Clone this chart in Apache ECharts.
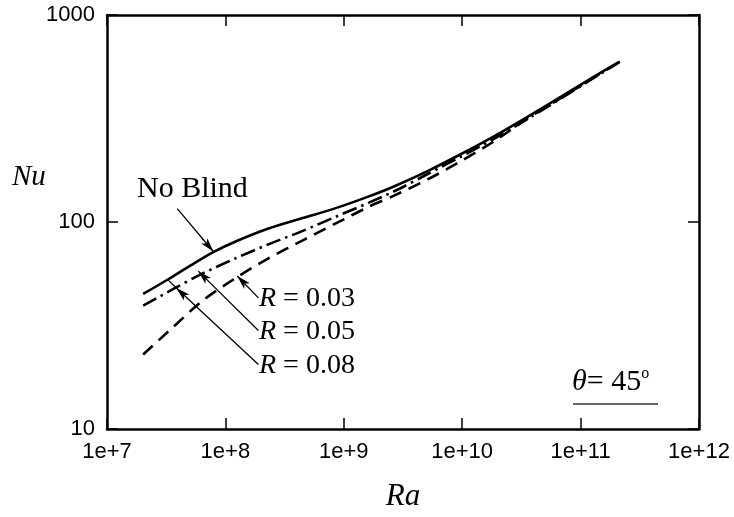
<!DOCTYPE html>
<html>
<head>
<meta charset="utf-8">
<script src="https://cdn.jsdelivr.net/npm/echarts@6/dist/echarts.min.js"></script>
<style>
html,body{margin:0;padding:0;background:#fff;}
#chart{width:734px;height:517px;}
</style>
</head>
<body>
<div id="chart"></div>
<script>
// ---- data ----
const xTicks = [1e7, 1e8, 1e9, 1e10, 1e11, 1e12];
const yTicks = [10, 100, 1000];

// No Blind (solid)
const raNoBlind = [2.02e7, 3.29e7, 5.05e7, 7.9e7, 1.22e8, 2.31e8, 4.5e8, 8.55e8, 1.63e9, 2.65e9, 5.15e9, 9.8e9, 1.87e10, 3.62e10, 6.9e10, 1.31e11, 2.14e11];
const nuNoBlind = [44.9, 52.9, 61.5, 71.5, 80.5, 93.0, 104.5, 116.7, 133, 148.5, 176.6, 213, 260, 324, 404, 505, 596];

// dash-dot curve
const raDashDot = [2.02e7, 3.77e7, 6.14e7, 1.22e8, 2.31e8, 4.5e8, 8.55e8, 1.63e9, 3.04e9, 5.15e9, 9.8e9, 1.87e10, 3.62e10, 6.9e10, 1.31e11, 2.14e11];
const nuDashDot = [39.4, 48.0, 55.7, 66.8, 78.0, 90.6, 106, 124, 146, 171, 207, 253, 316, 397, 499, 593];

// dashed curve
const raDashed = [2.02e7, 3.56e7, 6.38e7, 1.22e8, 2.31e8, 4.5e8, 8.55e8, 1.63e9, 2.65e9, 5.15e9, 9.8e9, 1.87e10, 3.62e10, 6.9e10, 1.31e11, 2.14e11];
const nuDashed = [22.9, 30.8, 41.6, 53.6, 66.8, 81.5, 98.4, 118.6, 134, 161, 197, 246, 318, 399, 501, 594];

// leader lines (start [Ra, Nu] -> arrow tip [Ra, Nu])
const leaderNoBlind = [[3.92e7, 116], [7.91e7, 72]];
const leaderR003 = [[1.9e8, 43], [1.26e8, 54.8]];
const leaderR005 = [[1.9e8, 29.9], [5.9e7, 57.9]];
const leaderR008 = [[1.9e8, 20.5], [3.85e7, 48.0]];
const leaderR008Tail = [[3.85e7, 48.0], [3.29e7, 52.4]];

const labels = ['No Blind', '{i|R} = 0.03', '{i|R} = 0.05', '{i|R} = 0.08'];

function zip(a, b) { return a.map((v, i) => [v, b[i]]); }
function leader(l) { return [{ coord: l[0], symbol: 'none' }, { coord: l[1], symbol: 'arrow' }]; }
function plain(l) { return [{ coord: l[0], symbol: 'none' }, { coord: l[1], symbol: 'none' }]; }

const chart = echarts.init(document.getElementById('chart'));
const serif = '"Liberation Serif", "DejaVu Serif", serif';
const sans = '"Liberation Sans", Arial, sans-serif';

const axisLine = { show: true, onZero: false, lineStyle: { color: '#000', width: 2.5 } };
const axisTick = { show: true, inside: true, length: 11, lineStyle: { color: '#000', width: 1.5 } };
const italic = { fontStyle: 'italic', fontFamily: serif, fontSize: 28 };

chart.setOption({
  animation: false,
  backgroundColor: '#ffffff',
  grid: { left: 107, right: 35, top: 15, bottom: 85 },
  xAxis: [
    {
      type: 'log', logBase: 10, min: xTicks[0], max: xTicks[xTicks.length - 1], position: 'bottom',
      axisLine, axisTick, splitLine: { show: false }, minorTick: { show: false },
      axisLabel: { color: '#000', fontFamily: sans, fontSize: 22, margin: 12,
        formatter: v => '1e+' + Math.round(Math.log10(v)) },
      name: 'Ra', nameLocation: 'middle', nameGap: 52,
      nameTextStyle: { fontFamily: serif, fontStyle: 'italic', fontSize: 31, color: '#000' }
    },
    {
      type: 'log', logBase: 10, min: xTicks[0], max: xTicks[xTicks.length - 1], position: 'top',
      axisLine, axisTick, splitLine: { show: false }, axisLabel: { show: false }
    }
  ],
  yAxis: [
    {
      type: 'log', logBase: 10, min: yTicks[0], max: yTicks[yTicks.length - 1], position: 'left',
      axisLine, axisTick, splitLine: { show: false }, minorTick: { show: false },
      axisLabel: { color: '#000', fontFamily: sans, fontSize: 22, margin: 12,
        formatter: v => String(Math.round(v)) }
    },
    {
      type: 'log', logBase: 10, min: yTicks[0], max: yTicks[yTicks.length - 1], position: 'right',
      axisLine, axisTick, splitLine: { show: false }, axisLabel: { show: false }
    }
  ],
  series: [
    {
      name: 'No Blind', type: 'line', data: zip(raNoBlind, nuNoBlind), smooth: 0.3,
      showSymbol: false, lineStyle: { color: '#000', width: 2.6, type: 'solid' },
      markLine: {
        silent: true, symbolSize: [6, 14], label: { show: false },
        lineStyle: { color: '#000', width: 1.3, type: 'solid' },
        data: [leader(leaderNoBlind), leader(leaderR003), leader(leaderR005), leader(leaderR008), plain(leaderR008Tail)]
      }
    },
    {
      name: 'dashdot', type: 'line', data: zip(raDashDot, nuDashDot), smooth: 0.3,
      showSymbol: false, lineStyle: { color: '#000', width: 2.6, type: [15, 5, 2.5, 5] }
    },
    {
      name: 'dashed', type: 'line', data: zip(raDashed, nuDashed), smooth: 0.3,
      showSymbol: false, lineStyle: { color: '#000', width: 2.6, type: [13, 8] }
    }
  ],
  graphic: [
    { type: 'text', left: 12, top: 163, style: { text: 'Nu', font: 'italic 29px ' + serif, fill: '#000' } },
    { type: 'text', left: 137, top: 174, style: { text: labels[0], font: '30px ' + serif, fill: '#000' } },
    { type: 'text', left: 259, top: 285, style: { text: labels[1], font: '28px ' + serif, fill: '#000', rich: { i: italic } } },
    { type: 'text', left: 259, top: 318, style: { text: labels[2], font: '28px ' + serif, fill: '#000', rich: { i: italic } } },
    { type: 'text', left: 259, top: 352, style: { text: labels[3], font: '28px ' + serif, fill: '#000', rich: { i: italic } } },
    { type: 'text', left: 572, top: 366, style: { text: '{i|θ}= 45{s|o}', font: '30px ' + serif, fill: '#000', rich: { i: { fontStyle: 'italic', fontFamily: serif, fontSize: 30 }, s: { fontFamily: serif, fontSize: 16, padding: [0, 0, 16, 0] } } } },
    { type: 'line', shape: { x1: 573, y1: 404, x2: 658, y2: 404 }, style: { stroke: '#333', lineWidth: 1.5 } }
  ]
});
</script>
</body>
</html>
